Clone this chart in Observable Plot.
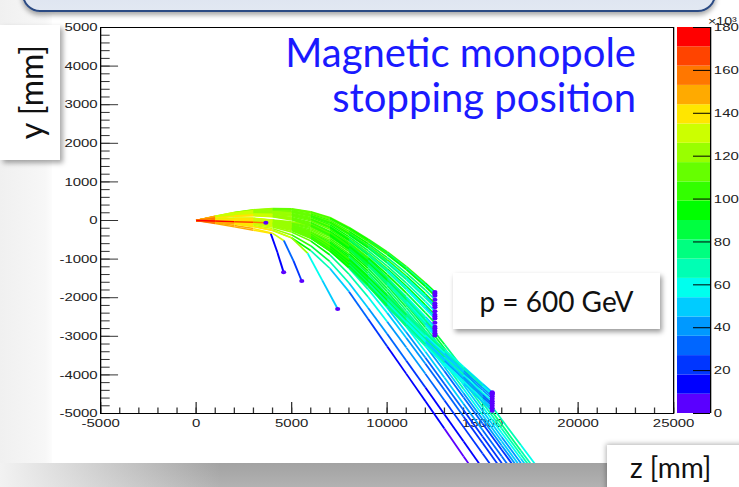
<!DOCTYPE html>
<html><head><meta charset="utf-8">
<script src="https://cdn.jsdelivr.net/npm/d3@7"></script>
<script src="https://cdn.jsdelivr.net/npm/@observablehq/plot@0.6"></script>
<style>
html,body{margin:0;padding:0;}
body{width:739px;height:487px;overflow:hidden;position:relative;background:#fff;font-family:Lato,"Open Sans",sans-serif;}
.abs{position:absolute;}
</style></head><body>
<div class="abs" style="left:0;top:0;width:56px;height:487px;background:linear-gradient(to right,#f0f0f0,#f7f7f7 80%,#fff)"></div>
<div class="abs" style="left:0;top:463px;width:739px;height:24px;background:linear-gradient(to bottom,#a2a2a2,#b2b2b2);"></div>
<div class="abs" style="left:0;top:463px;width:220px;height:24px;background:linear-gradient(to right,rgba(242,242,242,1),rgba(242,242,242,0))"></div>
<div id="main" class="abs" style="left:52px;top:14px"></div>
<div id="cbar" class="abs" style="left:660px;top:14px"></div>
<div class="abs" style="left:22px;top:-48px;width:690px;height:56px;border:2px solid #2b4a83;border-radius:18px;background:linear-gradient(#d3dced,#e2e8f2);box-shadow:0 3px 5px rgba(0,0,0,.35)"></div>
<div class="abs" id="bigtext" style="right:103px;top:30px;text-align:right;color:#1a1aff;font-size:40px;line-height:45px;white-space:nowrap">Magnetic monopole<br>stopping position</div>
<div class="abs" style="left:0;top:25px;width:60px;height:135px;background:#fff;box-shadow:3px 3px 5px rgba(0,0,0,.35)">
  <div style="position:absolute;left:30px;top:67px;transform:translate(-50%,-50%) rotate(-90deg);font-size:32px;white-space:nowrap;color:#111">y [mm]</div>
</div>
<div class="abs" style="left:453px;top:273px;width:207px;height:56px;background:#fff;box-shadow:2px 3px 5px rgba(0,0,0,.4);text-align:center;font-size:28px;line-height:56px;color:#111">p = 600 GeV</div>
<div class="abs" style="left:607px;top:445px;width:140px;height:50px;background:#fff;box-shadow:-1px -1px 5px rgba(0,0,0,.3);font-size:28px;line-height:44px;color:#111;padding-left:23px;box-sizing:border-box">z [mm]</div>
<script>
// ---- axis ticks ----
const xMajor = [-5000, 0, 5000, 10000, 15000, 20000, 25000];
const xMinor = d3.range(-5000, 25001, 1000);
const yMajor = [-5000, -4000, -3000, -2000, -1000, 0, 1000, 2000, 3000, 4000, 5000];
const yMinor = d3.range(-5000, 5001, 200);
const cbTicks = [0, 20, 40, 60, 80, 100, 120, 140, 160, 180];
// ---- colour palette (20 levels, 0..180 x10^3) ----
const palette = ["#5a00ff","#0000ff","#0036ff","#0066ff","#0099ff","#00ccff","#00ffee","#00ffb4","#00ff80","#00ff40",
                 "#00ff00","#33ff00","#66ff00","#99ff00","#ccff00","#ffe600","#ffaa00","#ff7700","#ff4400","#ff0000"];
const levelStep = 9;
// ---- track samples: z grid (mm) ----
const zGrid = [0,1000,2000,3000,4000,5000,6000,7000,8000,9000,10000,11000,12000,13000,14000,15000,16000,17000,18000];
// tracks stopping at z ~ 12500
const stopY = [
 [0,110,210,280,310,305,230,80,-180,-480,-810,-1190,-1620],
 [0,108,205,272,300,292,212,60,-205,-510,-845,-1230,-1665],
 [0,105,200,265,290,280,195,40,-230,-540,-880,-1270,-1710],
 [0,100,190,250,270,255,165,0,-280,-600,-960,-1360,-1800],
 [0,100,185,240,255,235,140,-30,-320,-650,-1020,-1440,-1900],
 [0,97,180,232,245,222,125,-50,-345,-680,-1060,-1485,-1950],
 [0,95,175,225,235,210,110,-70,-370,-710,-1100,-1530,-2000],
 [0,90,165,210,215,185,80,-110,-420,-780,-1180,-1620,-2100],
 [0,90,160,200,195,160,50,-150,-470,-840,-1250,-1700,-2190],
 [0,88,155,192,188,148,35,-170,-495,-870,-1285,-1745,-2240],
 [0,85,150,185,180,135,20,-190,-520,-900,-1320,-1790,-2290],
 [0,80,140,170,160,110,-10,-230,-570,-960,-1400,-1880,-2390],
 [0,75,130,155,140,80,-50,-280,-630,-1030,-1480,-1970,-2490],
 [0,72,125,148,128,62,-75,-310,-660,-1065,-1520,-2015,-2540],
 [0,70,120,140,115,45,-100,-340,-690,-1100,-1560,-2060,-2590],
 [0,68,115,132,105,30,-120,-365,-720,-1135,-1600,-2105,-2645],
 [0,65,110,125,95,15,-140,-390,-750,-1170,-1640,-2150,-2700]
];
const stopE = [
 [145,126,122,118,115,112,110,108,106,104,102,100,98],
 [146,127,123,118,114,110,105,98,90,82,74,66,60],
 [147,128,124,119,116,113,110,107,104,101,98,95,92],
 [148,129,126,120,116,112,107,101,95,88,80,72,65],
 [146,128,127,121,117,114,111,108,105,102,99,96,93],
 [149,130,128,121,116,110,102,92,82,72,62,55,50],
 [147,129,129,122,117,112,106,99,92,85,78,71,66],
 [150,131,130,123,117,111,104,96,88,80,72,64,58],
 [146,128,130,124,119,115,111,107,103,99,95,91,87],
 [150,132,131,124,117,109,100,90,80,70,62,56,50],
 [149,131,132,125,118,111,103,95,86,77,68,60,54],
 [148,130,133,126,120,115,110,105,100,96,92,88,84],
 [151,133,134,126,119,112,104,95,86,77,68,60,52],
 [150,132,134,127,120,113,106,99,92,84,76,68,62],
 [152,134,135,127,121,115,109,103,97,91,85,80,75],
 [151,133,135,126,118,110,101,92,82,72,63,55,48],
 [153,135,136,127,120,113,105,97,89,80,71,63,56]
];
const stopEnd = [[12500,-1850,4],[12500,-1900,3],[12500,-1950,4],[12500,-2050,3],[12500,-2150,5],[12500,-2200,3],
 [12500,-2250,4],[12500,-2350,3],[12500,-2440,5],[12500,-2490,3],[12500,-2540,3],[12500,-2650,4],[12500,-2750,3],
 [12500,-2800,4],[12500,-2860,4],[12500,-2920,3],[12500,-2980,3]];
// tracks stopping at z ~ 15500
const deepY = [
 [0,35,60,60,10,-110,-320,-620,-1000,-1450,-1930,-2410,-2880,-3340,-3790,-4230],
 [0,34,58,56,5,-118,-330,-632,-1015,-1468,-1950,-2432,-2905,-3365,-3815,-4258],
 [0,32,55,52,0,-125,-340,-645,-1030,-1485,-1970,-2455,-2930,-3390,-3840,-4285],
 [0,30,50,45,-10,-140,-360,-670,-1060,-1520,-2010,-2500,-2980,-3440,-3890,-4340],
 [0,29,48,40,-18,-150,-375,-690,-1085,-1550,-2045,-2540,-3025,-3490,-3945,-4400],
 [0,28,45,35,-25,-160,-390,-710,-1110,-1580,-2080,-2580,-3070,-3540,-4000,-4460],
 [0,26,42,30,-32,-172,-405,-730,-1135,-1610,-2115,-2620,-3115,-3590,-4055,-4520],
 [0,25,40,25,-40,-185,-420,-750,-1160,-1640,-2150,-2660,-3160,-3640,-4110,-4580],
 [0,24,38,20,-48,-198,-435,-770,-1185,-1670,-2185,-2700,-3205,-3690,-4165,-4640],
 [0,22,35,15,-55,-210,-450,-790,-1210,-1700,-2220,-2740,-3250,-3740,-4220,-4700]
];
const deepE = [
 [150,132,134,127,121,114,107,100,93,86,79,72,66,60,55,50],
 [149,131,133,127,121,115,108,101,94,86,78,70,63,57,52,48],
 [151,133,135,128,121,115,109,103,97,91,85,79,73,68,63,58],
 [152,134,135,127,120,112,104,96,88,80,72,64,56,49,43,38],
 [150,132,134,127,120,112,103,94,85,76,67,59,52,46,41,37],
 [153,135,136,128,122,116,110,104,98,92,86,80,74,68,62,57],
 [151,133,135,127,120,111,102,93,84,75,66,58,51,45,40,35],
 [154,136,136,127,119,110,100,90,80,71,62,54,47,41,36,32],
 [152,134,136,128,121,114,107,100,93,86,79,72,66,61,56,52],
 [155,137,137,128,121,113,105,97,89,81,74,67,61,55,50,45]
];
const deepEnd = [[15500,-4450,3],[15500,-4478,3],[15500,-4505,4],[15500,-4560,3],[15500,-4620,3],[15500,-4680,4],
 [15500,-4740,3],[15500,-4800,3],[15500,-4865,3],[15500,-4930,3]];
// tracks leaving through the bottom
const exitY = [
 [0,-35,-80,-150,-250,-450,-780,-1240,-1840,-2550,-3260,-3970,-4680,-5390,-6110,-6820],
 [0,-30,-68,-125,-210,-375,-655,-1065,-1615,-2265,-2940,-3630,-4325,-5025,-5725,-6425],
 [0,-25,-55,-100,-170,-300,-530,-890,-1390,-1980,-2620,-3290,-3970,-4660,-5350,-6040,-6730],
 [0,-20,-45,-85,-145,-260,-460,-780,-1230,-1780,-2390,-3040,-3710,-4390,-5080,-5770,-6460],
 [0,-18,-40,-75,-130,-235,-420,-720,-1145,-1670,-2260,-2895,-3555,-4230,-4915,-5600,-6285],
 [0,-15,-35,-65,-115,-210,-380,-660,-1060,-1560,-2130,-2750,-3400,-4070,-4750,-5430,-6110,-6790],
 [0,-10,-25,-50,-95,-180,-330,-590,-960,-1440,-2000,-2600,-3240,-3900,-4580,-5260,-5940,-6620],
 [0,-8,-20,-42,-82,-160,-305,-550,-910,-1375,-1920,-2510,-3140,-3795,-4470,-5150,-5830,-6510],
 [0,-5,-15,-35,-70,-140,-280,-510,-860,-1310,-1840,-2420,-3040,-3690,-4360,-5040,-5720,-6400],
 [0,0,-5,-20,-50,-115,-245,-465,-800,-1240,-1760,-2335,-2950,-3595,-4260,-4935,-5610,-6285],
 [0,5,5,-5,-30,-90,-210,-420,-740,-1170,-1680,-2250,-2860,-3500,-4160,-4830,-5500,-6170,-6840],
 [0,10,15,8,-15,-70,-180,-380,-690,-1110,-1610,-2170,-2770,-3405,-4060,-4725,-5395,-6065,-6735],
 [0,15,25,20,0,-50,-150,-340,-640,-1050,-1540,-2090,-2680,-3310,-3960,-4620,-5290,-5960,-6630],
 [0,20,32,30,12,-30,-120,-300,-590,-990,-1470,-2010,-2590,-3210,-3850,-4500,-5160,-5820,-6480]
];
const exitE = [
 [155,140,140,130,118,90,70,50,35,24,17,12,9,7,5,4],
 [154,139,140,130,120,100,82,64,48,36,27,21,17,14,12,10],
 [153,138,139,131,122,108,94,80,66,54,44,36,30,25,21,18,15],
 [155,140,141,132,123,111,96,82,68,56,46,38,32,27,23,20,17],
 [154,139,140,131,122,111,98,84,70,58,48,40,34,29,25,22,19],
 [153,138,140,131,123,114,104,94,84,75,66,58,51,45,40,35,31,28],
 [154,139,141,132,123,113,102,90,78,67,57,48,41,35,30,26,23,20],
 [152,137,139,131,123,115,106,97,88,79,70,62,55,49,44,40,36,33],
 [151,136,139,131,123,116,109,102,95,88,81,75,69,63,58,53,49,45],
 [152,137,139,130,123,116,108,100,92,84,76,69,62,56,51,47,43,40],
 [150,135,138,130,122,115,108,101,94,88,82,77,72,68,64,60,56,53,50],
 [151,136,138,130,122,116,110,104,98,93,88,84,80,77,74,71,68,65,62],
 [150,135,137,129,122,116,111,106,101,97,93,89,85,82,79,76,73,70,67],
 [149,134,137,129,122,117,112,107,102,97,92,87,82,78,74,70,66,62,58]
];
// short, strongly bent tracks (and one short straight track)
const stubZ = [[0,1000,2000,3000,3900,4250,4580],[0,1000,2000,3000,4000,4590,5100,5530],
 [0,1000,2000,3000,4000,5000,5840,6600,7410],[0,1000,2000,3000,3650]];
const stubY = [[0,-80,-165,-250,-330,-820,-1340],[0,-60,-130,-210,-330,-520,-1050,-1570],
 [0,-40,-90,-160,-260,-450,-850,-1550,-2290],[0,-15,-30,-45,-60]];
const stubE = [[158,148,146,142,10,9,5],[156,146,144,140,134,30,25,22],
 [155,144,142,136,128,118,56,53,50],[178,172,166,160,155]];
const stubEndE = [5,6,4,5];

// ---- build segments ----
const segs = [], ends = [];
function addTrack(zs, ys, es, end) {
  for (let i = 0; i < ys.length - 1; i++) segs.push({z1: zs[i], y1: ys[i], z2: zs[i+1], y2: ys[i+1], e: es[i]});
  const n = ys.length - 1;
  if (end) {
    segs.push({z1: zs[n], y1: ys[n], z2: end[0], y2: end[1], e: es[n]});
    ends.push({z: end[0], y: end[1], e: end[2]});
  }
}
exitY.forEach((ys, t) => addTrack(zGrid, ys, exitE[t], null));
deepY.forEach((ys, t) => addTrack(zGrid, ys, deepE[t], deepEnd[t]));
stopY.forEach((ys, t) => addTrack(zGrid, ys, stopE[t], stopEnd[t]));
stubZ.forEach((zs, t) => {
  addTrack(zs, stubY[t], stubE[t], null);
  const n = zs.length - 1;
  ends.push({z: zs[n], y: stubY[t][n], e: stubEndE[t]});
});

const colorOpts = {type: "threshold", domain: d3.range(levelStep, 180, levelStep), range: palette};
const S = 1.29; // horizontal stretch of the ROOT canvas picture
const font = "11.6px 'Liberation Sans', Arial, sans-serif";
function stretch(svg, w, h) {
  svg.setAttribute("width", w * S);
  svg.setAttribute("preserveAspectRatio", "none");
  svg.style.width = (w * S) + "px";
  svg.style.height = h + "px";
  svg.style.maxWidth = "none";
}

// ---- main plot ----
const W0 = 687 / S, H0 = 449;
const mL = 48 / S, mR = 66 / S, mT = 13, mB = 50;
const FW = W0 - mL - mR, FH = H0 - mT - mB;
const main = Plot.plot({
  width: W0, height: H0, marginLeft: mL, marginRight: mR, marginTop: mT, marginBottom: mB,
  x: {domain: [-5000, 25000]},
  y: {domain: [-5000, 5000]},
  color: colorOpts,
  style: {background: "#fff", font, color: "#222", overflow: "hidden"},
  marks: [
    Plot.ruleY(yMinor, {stroke: "#333", insetRight: FW - 7.5}),
    Plot.ruleY(yMajor, {stroke: "#333", insetRight: FW - 14}),
    Plot.ruleX(xMinor, {stroke: "#333", insetTop: FH - 5.5}),
    Plot.ruleX(xMajor, {stroke: "#333", insetTop: FH - 11}),
    Plot.axisX({ticks: xMajor, tickSize: 0, tickPadding: 5, label: null, tickFormat: d => String(d), fontSize: 11.6}),
    Plot.axisY({ticks: yMajor, tickSize: 0, tickPadding: 2.3, label: null, tickFormat: d => String(d), fontSize: 11.6}),
    Plot.frame({stroke: "#000"}),
    Plot.link(segs, {x1: "z1", y1: "y1", x2: "z2", y2: "y2", stroke: "e", strokeWidth: 1.5}),
    Plot.dot(ends, {x: "z", y: "y", fill: "e", r: 2})
  ]
});
stretch(main, W0, H0);
document.getElementById("main").appendChild(main);

// ---- colour bar ----
const WC = 79 / S, HC = 420;
const cL = 17 / S, cR = 29 / S;
const BW = WC - cL - cR;
const bandLows = d3.range(0, 180, levelStep);
const cbar = Plot.plot({
  width: WC, height: HC, marginLeft: cL, marginRight: cR, marginTop: 13, marginBottom: 21,
  x: {domain: [0, 1], axis: null},
  y: {domain: [0, 180]},
  color: colorOpts,
  style: {background: "transparent", font, color: "#222", overflow: "visible"},
  marks: [
    Plot.rect(bandLows, {x1: () => 0, x2: () => 1, y1: d => d, y2: d => d + levelStep, fill: d => d + levelStep / 2}),
    Plot.ruleY(cbTicks, {stroke: "#000", insetLeft: BW - 13.2}),
    Plot.ruleX([1], {stroke: "#000"}),
    Plot.axisY({anchor: "right", ticks: cbTicks, tickSize: 0, tickPadding: 2.5, label: null, tickFormat: d => String(d), fontSize: 11.6}),
    Plot.text(["×10³"], {frameAnchor: "top-right", textAnchor: "start", dx: -2, dy: -10, fontSize: 11})
  ]
});
stretch(cbar, WC, HC);
document.getElementById("cbar").appendChild(cbar);
</script>
</body></html>
